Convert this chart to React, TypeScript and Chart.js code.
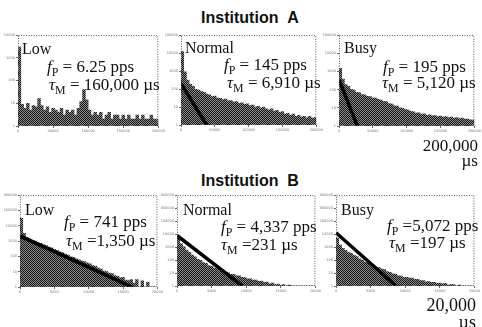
import React, { useEffect, useRef } from 'react';
import { Chart, registerables } from 'chart.js';

Chart.register(...registerables);

// ---------- data ----------
const BIN_WIDTH_A = 4000; // µs per bin, Institution A
const BIN_WIDTH_B = 400; // µs per bin, Institution B

const X_TICKS_A = [0, 50000, 100000, 150000, 200000];
const X_TICKS_B = [0, 5000, 10000, 15000, 20000];

const Y_TICKS_A_LOW = [1, 10, 100, 1000, 10000];
const Y_TICKS_A_NORMAL = [1, 10, 100, 1000, 10000, 100000];
const Y_TICKS_A_BUSY = [1, 10, 100, 1000, 10000, 100000];
const Y_TICKS_B_LOW = [1, 10, 100, 1000, 10000, 100000, 1000000];
const Y_TICKS_B_NORMAL = [1, 10, 100, 1000, 10000, 100000, 1000000, 10000000];
const Y_TICKS_B_BUSY = [1, 10, 100, 1000, 10000, 100000, 1000000, 10000000];

const COUNTS_A_LOW = [3000, 9, 6, 10, 5, 8, 7, 16, 8, 5, 7, 4, 6, 5, 4, 6, 3, 5, 4, 5, 3, 6, 12, 40, 14, 5, 3, 4, 3, 4, 2, 3, 4, 2, 3, 3, 2, 3, 2, 3, 2, 2, 3, 2, 3, 2, 2, 3, 2, 2];
const COUNTS_A_NORMAL = [12000, 900, 310, 180, 140, 95, 88, 72, 66, 52, 48, 38, 40, 31, 30, 26, 28, 22, 23, 19, 20, 16, 17, 14, 15, 12, 13, 10, 11, 9, 10, 8, 7, 8, 6, 6.5, 5, 5.5, 4, 4.5, 3.5, 4, 3, 3.5, 2.8, 3, 2.5, 3, 2.4, 2.6];
const COUNTS_A_BUSY = [1500, 380, 190, 150, 105, 95, 72, 68, 54, 52, 43, 41, 34, 34, 29, 27, 23, 22, 17, 16, 13, 12.5, 10, 9.5, 8, 7.5, 6.5, 6, 5.2, 5.3, 4.4, 4.6, 3.9, 4.1, 3.6, 3.8, 3.3, 3.5, 3.1, 3.3, 2.9, 3.1, 2.7, 2.9, 2.6, 2.7, 2.4, 2.4, 2.2, 2.1];
const COUNTS_B_LOW = [30000, 3200, 1700, 1350, 1100, 1000, 780, 700, 560, 500, 400, 360, 280, 250, 200, 175, 140, 120, 95, 86, 68, 60, 50, 45, 36, 32, 25, 22, 17, 15, 11, 10, 8, 7.5, 5.5, 5, 4, 4.2, 2.8, 2.6, 3, 1.8, 3, 1, 2.5, 1, 2, 1, 1, 1];
const COUNTS_B_NORMAL = [6000, 1800, 1050, 580, 400, 240, 180, 115, 95, 64, 55, 38, 33, 24, 21, 15, 14, 11, 10.5, 8, 8, 6.2, 6, 4.6, 4.5, 3.6, 3.6, 2.8, 2.9, 2.3, 2.4, 1.9, 2, 1.5, 1.7, 1.3, 1.4, 1.1, 1.3, 1, 1.2, 1, 1, 1, 1, 1, 1, 1, 1, 1];
const COUNTS_B_BUSY = [5000, 1400, 780, 570, 400, 330, 230, 185, 125, 100, 70, 60, 44, 40, 29, 26, 20, 18, 13, 11.5, 8.5, 7.8, 6.2, 5.8, 4.7, 4.7, 4, 4, 3.3, 3.3, 2.6, 2.6, 2.1, 2.2, 1.9, 1.9, 1.6, 1.7, 1.5, 1.6, 1.2, 1.3, 1.3, 1, 1.2, 1, 1, 1, 1, 1];

// fitted exponential (straight line on log axis): [start x, start count], [end x, end count]
const FIT_A_NORMAL = [[0, 200], [38000, 1]];
const FIT_A_BUSY = [[0, 360], [27000, 1]];
const FIT_B_LOW = [[0, 2150], [16300, 1]];
const FIT_B_NORMAL = [[0, 7800], [9440, 1]];
const FIT_B_BUSY = [[0, 12600], [8680, 1]];

const TITLES = ['Institution\u00a0\u00a0A', 'Institution\u00a0\u00a0B'];
const LOADS = ['Low', 'Normal', 'Busy'];
const FP_A = ['= 6.25 pps', '= 145 pps', '= 195 pps'];
const TAU_A = ['= 160,000 \u00b5s', '= 6,910 \u00b5s', '= 5,120 \u00b5s'];
const FP_B = ['= 741 pps', '= 4,337 pps', '=5,072 pps'];
const TAU_B = ['=1,350 \u00b5s', '=231 \u00b5s', '=197 \u00b5s'];
const RANGE_A = ['200,000', '\u00b5s'];
const RANGE_B = ['20,000', '\u00b5s'];

// ---------- layout ----------
const PAD_L = 16;
const PAD_B = 8;
const PAD_T = 3;
const PAD_R = 1;

type Box = { x: number; y: number; w: number; h: number };

const dotBox = {
  id: 'dotBox',
  afterDraw(chart: any) {
    const { ctx, chartArea: a } = chart;
    ctx.save();
    ctx.strokeStyle = '#555';
    ctx.lineWidth = 1;
    ctx.setLineDash([1, 1.5]);
    ctx.strokeRect(a.left + 0.5, a.top + 0.5, a.right - a.left - 1, a.bottom - a.top - 1);
    ctx.restore();
  },
};

function makePattern(): CanvasPattern | string {
  const c = document.createElement('canvas');
  c.width = 2;
  c.height = 2;
  const g = c.getContext('2d');
  if (!g) return '#444';
  g.fillStyle = '#8c8c8c';
  g.fillRect(0, 0, 2, 2);
  g.fillStyle = '#141414';
  g.fillRect(0, 0, 1, 1);
  g.fillRect(1, 1, 1, 1);
  const p = g.createPattern(c, 'repeat');
  return p || '#444';
}

function Panel(props: {
  box: Box;
  counts: number[];
  binWidth: number;
  xTicks: number[];
  yTicks: number[];
  fit?: number[][];
}) {
  const ref = useRef<HTMLCanvasElement>(null);
  const { box, counts, binWidth, xTicks, yTicks, fit } = props;
  const W = box.w + PAD_L + PAD_R;
  const H = box.h + PAD_T + PAD_B;

  useEffect(() => {
    if (!ref.current) return;
    const bars = counts.map((c, i) => ({ x: binWidth * (i + 0.5), y: c }));
    const datasets: any[] = [];
    if (fit) {
      datasets.push({
        type: 'line',
        data: fit.map((p) => ({ x: p[0], y: p[1] })),
        borderColor: '#000',
        borderWidth: 3.5,
        pointRadius: 0,
        fill: false,
        tension: 0,
      });
    }
    datasets.push({
      type: 'bar',
      data: bars,
      backgroundColor: makePattern(),
      borderWidth: 0,
      barPercentage: 1,
      categoryPercentage: 1,
      grouped: false,
    });
    const tickFont = { size: 3.5, family: 'DejaVu Sans' };
    const chart = new Chart(ref.current, {
      type: 'bar',
      data: { datasets },
      options: {
        responsive: false,
        animation: false,
        events: [],
        layout: { padding: { top: PAD_T, right: PAD_R, left: 0, bottom: 0 } },
        plugins: { legend: { display: false }, tooltip: { enabled: false } },
        scales: {
          x: {
            type: 'linear',
            min: xTicks[0],
            max: xTicks[xTicks.length - 1],
            offset: false,
            afterBuildTicks: (s: any) => {
              s.ticks = xTicks.map((v) => ({ value: v }));
            },
            afterFit: (s: any) => {
              s.height = PAD_B;
            },
            ticks: {
              font: tickFont,
              color: '#777',
              padding: 1,
              maxRotation: 0,
              autoSkip: false,
              callback: (v: any) => String(v),
            },
            grid: { display: true, drawOnChartArea: false, tickLength: 2, color: '#666', offset: false },
            border: { display: false },
          },
          y: {
            type: 'logarithmic',
            min: yTicks[0],
            max: yTicks[yTicks.length - 1],
            afterBuildTicks: (s: any) => {
              s.ticks = yTicks.map((v) => ({ value: v }));
            },
            afterFit: (s: any) => {
              s.width = PAD_L;
            },
            ticks: {
              font: tickFont,
              color: '#777',
              padding: 1,
              autoSkip: false,
              callback: (v: any) => String(v),
            },
            grid: { display: true, drawOnChartArea: false, tickLength: 2, color: '#666' },
            border: { display: false },
          },
        },
      } as any,
      plugins: [dotBox],
    });
    return () => chart.destroy();
  }, []);

  return (
    <canvas
      ref={ref}
      width={W}
      height={H}
      style={{ position: 'absolute', left: box.x - PAD_L, top: box.y - PAD_T, width: W, height: H }}
    />
  );
}

const SERIF = '"Liberation Serif", "Times New Roman", serif';
const SANS = '"Liberation Sans", Arial, sans-serif';

function T(props: {
  x: number;
  base: number;
  size?: number;
  right?: boolean;
  sans?: boolean;
  bold?: boolean;
  children: any;
}) {
  const size = props.size || 16;
  const top = props.base - size * (props.sans ? 0.8465 : 0.8375);
  const style: any = {
    position: 'absolute',
    top,
    fontFamily: props.sans ? SANS : SERIF,
    fontSize: size,
    lineHeight: `${size}px`,
    fontWeight: props.bold ? 'bold' : 'normal',
    whiteSpace: 'nowrap',
    color: '#111',
  };
  if (props.right) style.right = 482 - props.x;
  else style.left = props.x;
  return <div style={style}>{props.children}</div>;
}

const sub = (s: string) => (
  <span style={{ fontSize: '0.7em', position: 'relative', top: '0.32em', fontStyle: 'normal' }}>{s}</span>
);

const EQ_SIZE = 17;

function FP(props: { x: number; base: number; text: string }) {
  return (
    <T x={props.x} base={props.base} size={EQ_SIZE}>
      <i>f</i>
      {sub('P')}
      {' ' + props.text}
    </T>
  );
}
function TAU(props: { x: number; base: number; text: string }) {
  return (
    <T x={props.x} base={props.base} size={EQ_SIZE}>
      <i>{'\u03c4'}</i>
      {sub('M')}
      {' ' + props.text}
    </T>
  );
}

const BOX_A: Box[] = [
  { x: 18, y: 35, w: 147, h: 91 },
  { x: 181, y: 35, w: 142, h: 90 },
  { x: 339, y: 35, w: 142, h: 91 },
];
const BOX_B: Box[] = [
  { x: 20, y: 195, w: 143, h: 92 },
  { x: 177, y: 195, w: 144, h: 91 },
  { x: 336, y: 195, w: 144, h: 91 },
];

export default function App() {
  const titleStyle = (base: number): any => ({
    position: 'absolute', left: 150, width: 200, top: base - 16 * 0.8465, textAlign: 'center',
    fontFamily: SANS, fontWeight: 'bold', fontSize: 16, lineHeight: '16px', color: '#111', whiteSpace: 'nowrap',
  });
  return (
    <div style={{ position: 'absolute', left: 0, top: 0, width: 482, height: 327, overflow: 'hidden', background: '#fff' }}>
      <div style={titleStyle(24)}>{TITLES[0]}</div>
      <div style={titleStyle(187)}>{TITLES[1]}</div>

      <Panel box={BOX_A[0]} counts={COUNTS_A_LOW} binWidth={BIN_WIDTH_A} xTicks={X_TICKS_A} yTicks={Y_TICKS_A_LOW} />
      <Panel box={BOX_A[1]} counts={COUNTS_A_NORMAL} binWidth={BIN_WIDTH_A} xTicks={X_TICKS_A} yTicks={Y_TICKS_A_NORMAL} fit={FIT_A_NORMAL} />
      <Panel box={BOX_A[2]} counts={COUNTS_A_BUSY} binWidth={BIN_WIDTH_A} xTicks={X_TICKS_A} yTicks={Y_TICKS_A_BUSY} fit={FIT_A_BUSY} />
      <Panel box={BOX_B[0]} counts={COUNTS_B_LOW} binWidth={BIN_WIDTH_B} xTicks={X_TICKS_B} yTicks={Y_TICKS_B_LOW} fit={FIT_B_LOW} />
      <Panel box={BOX_B[1]} counts={COUNTS_B_NORMAL} binWidth={BIN_WIDTH_B} xTicks={X_TICKS_B} yTicks={Y_TICKS_B_NORMAL} fit={FIT_B_NORMAL} />
      <Panel box={BOX_B[2]} counts={COUNTS_B_BUSY} binWidth={BIN_WIDTH_B} xTicks={X_TICKS_B} yTicks={Y_TICKS_B_BUSY} fit={FIT_B_BUSY} />

      {/* Institution A annotations */}
      <T x={22} base={54}>{LOADS[0]}</T>
      <FP x={47} base={72} text={FP_A[0]} />
      <TAU x={49} base={90} text={TAU_A[0]} />
      <T x={185} base={53}>{LOADS[1]}</T>
      <FP x={224} base={70} text={FP_A[1]} />
      <TAU x={227} base={88} text={TAU_A[1]} />
      <T x={344} base={53}>{LOADS[2]}</T>
      <FP x={383} base={72} text={FP_A[2]} />
      <TAU x={382} base={88} text={TAU_A[2]} />
      <T x={478} base={151} right size={17}>{RANGE_A[0]}</T>
      <T x={478} base={166} right size={17}>{RANGE_A[1]}</T>

      {/* Institution B annotations */}
      <T x={25} base={215}>{LOADS[0]}</T>
      <FP x={64} base={227} text={FP_B[0]} />
      <TAU x={66} base={246} text={TAU_B[0]} />
      <T x={183} base={215}>{LOADS[1]}</T>
      <FP x={221} base={232} text={FP_B[1]} />
      <TAU x={221} base={250} text={TAU_B[1]} />
      <T x={341} base={215}>{LOADS[2]}</T>
      <FP x={387} base={231} text={FP_B[2]} />
      <TAU x={389} base={248} text={TAU_B[2]} />
      <T x={476} base={311} right size={18}>{RANGE_B[0]}</T>
      <T x={476} base={328} right size={18}>{RANGE_B[1]}</T>
    </div>
  );
}
